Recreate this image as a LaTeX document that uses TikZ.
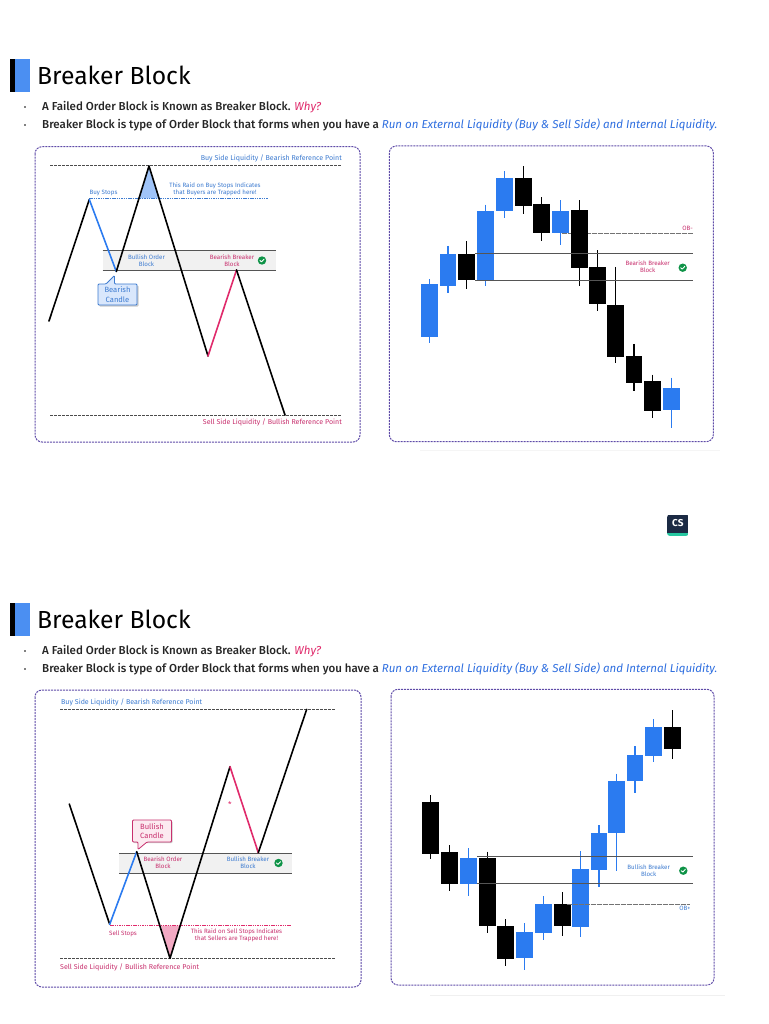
\documentclass[tikz,border=0pt]{standalone}
\usepackage{fontspec}
\setmainfont{Fira Sans}
\newfontfamily\medf{Fira Sans Medium}
\definecolor{cblue}{HTML}{2B7BF0}
\definecolor{tblue}{HTML}{3D7BD0}
\definecolor{lblue}{HTML}{2F6FE0}
\definecolor{cpink}{HTML}{E02A6B}
\definecolor{tpink}{HTML}{C8306E}
\definecolor{panelc}{HTML}{5F4BA8}
\definecolor{bandc}{HTML}{F1F1F1}
\definecolor{linec}{HTML}{555555}
\definecolor{okgreen}{HTML}{0E9347}
\definecolor{csnavy}{HTML}{1B2A44}
\definecolor{csteal}{HTML}{25C7A0}
\tikzset{
  panel/.style={draw=panelc,line width=1pt,dash pattern=on 2pt off 1pt,rounded corners=7pt},
  leg/.style={line width=1.6pt,line cap=round,line join=round},
  refline/.style={draw=black!70,line width=0.9pt,dash pattern=on 3pt off 1pt},
  small/.style={font=\fontsize{6.2}{6.9}\selectfont,align=center,inner sep=0pt},
  midl/.style={font=\fontsize{7.05}{8}\selectfont,inner sep=0pt},
  bandline/.style={draw=linec,line width=0.9pt},
  dotline/.style={draw=black!55,line width=0.8pt,dash pattern=on 0.8pt off 0.4pt},
  head/.style={font=\fontsize{24.7}{30}\selectfont,anchor=west,inner sep=0pt},
  bul/.style={font=\medf\fontsize{11.55}{13}\selectfont,anchor=west,inner sep=0pt,text=black!85},
  callout/.style={rounded corners=1pt,line width=0.8pt}
}
\newcommand{\okmark}[2]{%
  \fill[okgreen] (#1,#2) circle (4.2);
  \draw[white,line width=0.9pt,line cap=round,line join=round] (#1-2,#2) -- (#1-0.5,#2+1.4) -- (#1+2.1,#2-1.4);}
\newcommand{\candle}[7]{% colour,x1,x2,top,bot,wtop,wbot
  \draw[#1,line width=1.2pt] ({(#2+#3)/2},#6) -- ({(#2+#3)/2},#7);
  \fill[#1] (#2,#4) rectangle (#3,#5);}
\newcommand{\header}[1]{%
  \begin{scope}[yshift=#1]
  \fill[black] (10,59) rectangle (15.3,92);
  \fill[cblue!85!white] (15.3,59) rectangle (30.3,92);
  \node[head] at (37,75) {Breaker Block};
  \fill (25,107) circle (0.9);
  \fill (25,125) circle (0.9);
  \node[bul] at (42,107) {A Failed Order Block is Known as Breaker Block. \textcolor{cpink}{\fontspec{Fira Sans}\itshape Why?}};
  \node[bul] at (42,125) {Breaker Block is type of Order Block that forms when you have a \textcolor{lblue}{\fontspec{Fira Sans}\itshape Run on External Liquidity (Buy \& Sell Side) and Internal Liquidity.}};
  \end{scope}}
\begin{document}
\begin{tikzpicture}[x=1pt,y=-1pt]
\useasboundingbox (0,0) rectangle (768,1024);
\fill[white] (0,0) rectangle (768,1024);

%%% headers
\header{0}
\header{-544}

%%% panels
\draw[panel] (35,146.7) rectangle (360,442);
\draw[panel] (389.3,146) rectangle (713.3,441.7);
\draw[panel] (35,690) rectangle (361,987);
\draw[panel] (391,689.3) rectangle (714,985);
\draw[black!6,line width=0.8pt] (430,995) -- (725,995);
\draw[black!4,line width=0.8pt] (420,450) -- (720,450);

%%% top-left chart
\fill[bandc] (102.5,250.5) rectangle (275.5,270.5);
\draw[bandline] (102.5,250.5) -- (275.5,250.5);
\draw[bandline] (102.5,270.5) -- (275.5,270.5);
\fill[cblue!45] (149,166) -- (139,198.5) -- (159.6,198.5) -- cycle;
\draw[refline] (50,165.5) -- (342,165.5);
\draw[refline] (50,415) -- (342,415);
\draw[tblue,line width=0.7pt,dash pattern=on 1.5pt off 0.8pt] (89,198.5) -- (268,198.5);
\coordinate (a0) at (49,321);
\coordinate (a1) at (89.3,199.5);
\coordinate (a2) at (116.3,271.5);
\coordinate (a3) at (149,166);
\coordinate (a4) at (208,356);
\coordinate (a5) at (236.5,270);
\coordinate (a6) at (285,415);
\draw[leg] (a0) -- (a1);
\draw[leg,cblue] (a1) -- (a2);
\draw[leg] (a2) -- (a3) -- (a4);
\draw[leg,cpink] (a4) -- (a5);
\draw[leg] (a5) -- (a6);
\node[small,text=tblue] (t1) at (146.5,260.5) {Bullish Order\\Block};
\node[small,text=tpink] (t2) at (232,260.5) {Bearish Breaker\\Block};
\okmark{262}{260.5}
\node[midl,text=tblue,anchor=east] (t3) at (342,158.5) {Buy Side Liquidity / Bearish Reference Point};
\node[midl,text=tpink,anchor=east] (t4) at (342,422.5) {Sell Side Liquidity / Bullish Reference Point};
\node[small,text=tblue] (t5) at (103.5,193) {Buy Stops};
\node[small,text=tblue] (t6) at (215,189.5) {This Raid on Buy Stops Indicates\\that Buyers are Trapped here!};
\fill[black!20,rounded corners=1pt] (99,285.5) rectangle (138.5,306.5);
\draw[callout,draw=tblue,fill=cblue!18] (98,284) -- (106,284) -- (114.5,275.5) -- (114.5,284) -- (137,284) -- (137,305) -- (98,305) -- cycle;
\node[font=\fontsize{7.6}{9.8}\selectfont,align=center,inner sep=0pt,text=tblue] (t7) at (117.5,294.5) {Bearish\\Candle};

%%% top-right chart
\begin{scope}[shift={(380,90)},x=0.33333pt,y=-0.33333pt]
\candle{cblue}{122}{173}{583}{740}{568}{758}
\candle{cblue}{179}{229}{491}{588}{468}{608}
\candle{black}{235}{285}{491}{570}{454}{597}
\candle{cblue}{291}{342}{364}{570}{344}{588}
\candle{cblue}{348}{398}{265}{364}{244}{385}
\candle{black}{404}{455}{265}{347}{229}{372}
\candle{black}{460}{511}{342}{430}{322}{453}
\candle{cblue}{517}{568}{362}{428}{331}{465}
\candle{black}{573}{624}{360}{534}{331}{588}
\candle{black}{628}{678}{530}{643}{481}{664}
\candle{black}{682}{733}{644}{800}{531}{820}
\candle{black}{737}{787}{798}{878}{762}{904}
\candle{black}{793}{843}{873}{962}{854}{985}
\candle{cblue}{850}{900}{893}{961}{863}{1013}
\draw[bandline] (285,490) -- (940,490);
\draw[bandline] (285,570) -- (940,570);
\draw[dotline] (545,429) -- (573,429);
\draw[dotline] (624,429) -- (940,429);
\node[small,text=tpink] (t8) at (923,416) {OB-};
\node[small,text=tpink] (t9) at (803,531) {Bearish Breaker\\Block};
\end{scope}
\okmark{682.7}{267.7}

%%% bottom-left chart
\fill[bandc] (119,853) rectangle (292,873);
\draw[bandline] (119,853) -- (292,853);
\draw[bandline] (119,873) -- (292,873);
\fill[cpink!40] (170,958) -- (161,925.7) -- (180,925.7) -- cycle;
\draw[refline] (60,709.3) -- (336,709.3);
\draw[refline] (60,958.5) -- (336,958.5);
\draw[cpink,line width=0.7pt,dash pattern=on 1.5pt off 0.8pt] (110,925.7) -- (291,925.7);
\coordinate (b0) at (69.3,804);
\coordinate (b1) at (109.7,924.3);
\coordinate (b2) at (136.7,851.7);
\coordinate (b3) at (170,958.3);
\coordinate (b4) at (230,766.7);
\coordinate (b5) at (258.3,852.7);
\coordinate (b6) at (306.7,709.3);
\draw[leg] (b0) -- (b1);
\draw[leg,cblue] (b1) -- (b2);
\draw[leg] (b2) -- (b3) -- (b4);
\draw[leg,cpink] (b4) -- (b5);
\draw[leg] (b5) -- (b6);
\node[small,text=tpink] (t10) at (163,863) {Bearish Order\\Block};
\node[small,text=tblue] (t11) at (248,863) {Bullish Breaker\\Block};
\okmark{278.5}{863}
\node[midl,text=tblue,anchor=west] (t12) at (61,702.5) {Buy Side Liquidity / Bearish Reference Point};
\node[midl,text=tpink,anchor=west] (t13) at (60,967) {Sell Side Liquidity / Bullish Reference Point};
\node[small,text=tpink] (t14) at (123,933.5) {Sell Stops};
\node[small,text=tpink] (t15) at (236.5,935.6) {This Raid on Sell Stops Indicates\\that Sellers are Trapped here!};
\fill[black!20,rounded corners=1pt] (133.5,821) rectangle (172.5,843);
\draw[callout,draw=tpink,fill=cpink!10] (132.5,820) -- (171.5,820) -- (171.5,842) -- (147,842) -- (138,849.5) -- (138,842) -- (132.5,842) -- cycle;
\node[font=\fontsize{7.6}{9.8}\selectfont,align=center,inner sep=0pt,text=tpink] (t16) at (152,831) {Bullish\\Candle};
\node[inner sep=0pt,text=cpink,font=\fontsize{8}{8}\selectfont] (t17) at (230,804.5) {*};

%%% bottom-right chart
\begin{scope}[shift={(380,680)},x=0.33333pt,y=-0.33333pt]
\candle{black}{127}{178}{365}{522}{346}{536}
\candle{black}{183}{234}{516}{613}{495}{634}
\candle{cblue}{240}{291}{533}{613}{505}{648}
\candle{black}{296}{347}{533}{739}{515}{759}
\candle{black}{352}{403}{739}{836}{718}{857}
\candle{cblue}{408}{459}{755}{835}{729}{871}
\candle{cblue}{465}{515}{671}{760}{648}{779}
\candle{black}{521}{572}{673}{739}{636}{769}
\candle{cblue}{577}{627}{568}{740}{514}{770}
\candle{cblue}{632}{682}{458}{571}{436}{620}
\candle{cblue}{685}{736}{302}{458}{281}{572}
\candle{cblue}{740}{790}{224}{304}{198}{340}
\candle{cblue}{795}{846}{140}{229}{117}{247}
\candle{black}{852}{903}{142}{208}{90}{238}
\draw[bandline] (291,530) -- (940,530);
\draw[bandline] (291,609) -- (940,609);
\draw[dotline] (560,672) -- (930,672);
\node[small,text=tblue] (t18) at (915,686) {OB+};
\node[small,text=tblue] (t19) at (806,571) {Bullish Breaker\\Block};
\end{scope}
\okmark{683.3}{870.7}

%%% CS badge
\begin{scope}
\clip[rounded corners=3pt] (667,514.5) rectangle (688.7,536);
\fill[csnavy] (667,514.5) rectangle (688.7,533);
\fill[csteal] (667,533) rectangle (688.7,536);
\end{scope}
\node[font=\bfseries\fontsize{10}{10}\selectfont,text=white,inner sep=0pt] (cs) at (677.8,523.5) {CS};
\end{tikzpicture}
\end{document}
